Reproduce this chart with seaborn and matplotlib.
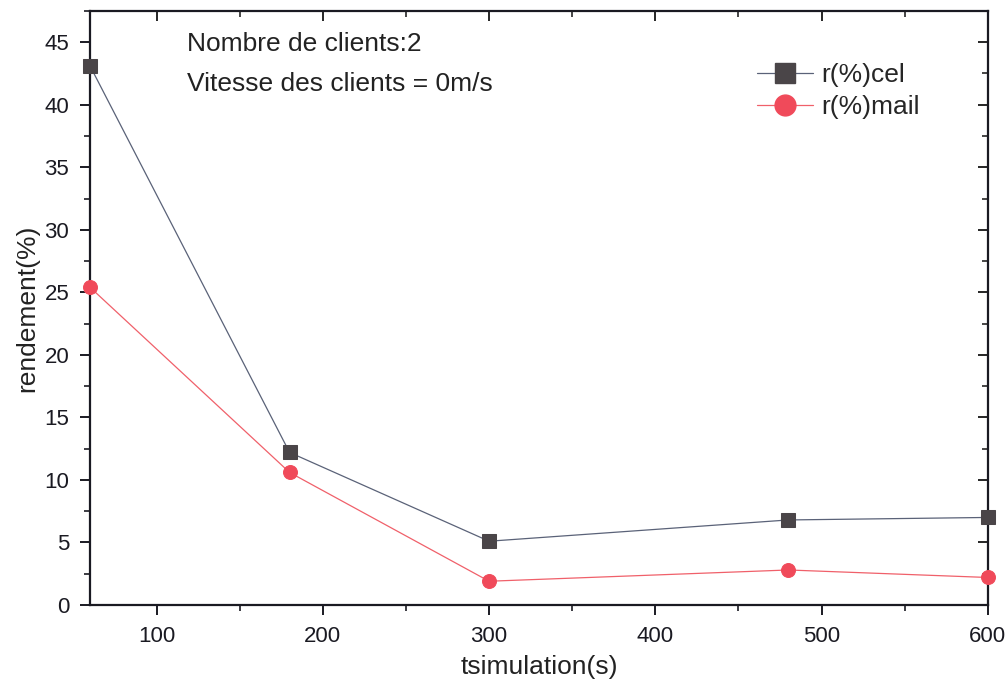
import numpy as np
import pandas as pd
import seaborn as sns
import matplotlib
matplotlib.use("Agg")
import matplotlib.pyplot as plt
from matplotlib.ticker import MultipleLocator
from matplotlib.lines import Line2D

# Simulation times (s)
tsimulation = [60, 180, 300, 480, 600]
# Yield (%) per series
r_cel = [43.1, 12.2, 5.1, 6.8, 7.0]
r_mail = [25.4, 10.6, 1.9, 2.8, 2.2]
series_names = ["r(%)cel", "r(%)mail"]

df = pd.DataFrame({
    "t": tsimulation * 2,
    "r": r_cel + r_mail,
    "serie": [series_names[0]] * len(tsimulation) + [series_names[1]] * len(tsimulation),
})

sns.set_style("ticks")
plt.rcParams["font.family"] = ["Liberation Sans", "DejaVu Sans"]

fig = plt.figure(figsize=(10.06, 6.81), dpi=100)
ax = fig.add_axes([0.0895, 0.1116, 0.8925, 0.8724])

line_cols = {"r(%)cel": "#5a6278", "r(%)mail": "#f0606a"}
face_cols = {"r(%)cel": "#4a4548", "r(%)mail": "#f04a5a"}
markers = {"r(%)cel": "s", "r(%)mail": "o"}

for name in series_names:
    sub = df[df["serie"] == name]
    sns.lineplot(data=sub, x="t", y="r", ax=ax, color=line_cols[name],
                 linewidth=0.9, marker=markers[name], markersize=10,
                 markerfacecolor=face_cols[name], markeredgecolor=face_cols[name],
                 clip_on=False, zorder=3, legend=False)

ax.set_xlim(60, 600)
ax.set_ylim(0, 47.5)
ax.xaxis.set_major_locator(MultipleLocator(100))
ax.xaxis.set_minor_locator(MultipleLocator(50))
ax.yaxis.set_major_locator(MultipleLocator(5))
ax.yaxis.set_minor_locator(MultipleLocator(2.5))

for s in ax.spines.values():
    s.set_linewidth(1.6)
    s.set_color("#1a1a22")

ax.tick_params(which="major", direction="out", length=7, width=1.4, labelsize=16,
               colors="#1a1a22", pad=8)
ax.tick_params(which="minor", direction="out", length=4, width=1.2, colors="#1a1a22")

# Mirror ticks on top and right, pointing inward
ax_top = ax.secondary_xaxis("top")
ax_top.xaxis.set_major_locator(MultipleLocator(100))
ax_top.xaxis.set_minor_locator(MultipleLocator(50))
ax_top.tick_params(which="major", direction="in", length=7, width=1.4, labeltop=False)
ax_top.tick_params(which="minor", direction="in", length=4, width=1.2)
ax_top.spines["top"].set_visible(False)
ax_right = ax.secondary_yaxis("right")
ax_right.yaxis.set_major_locator(MultipleLocator(5))
ax_right.yaxis.set_minor_locator(MultipleLocator(2.5))
ax_right.tick_params(which="major", direction="in", length=7, width=1.4, labelright=False)
ax_right.tick_params(which="minor", direction="in", length=4, width=1.2)
ax_right.spines["right"].set_visible(False)

ax.set_xlabel("tsimulation(s)", fontsize=19, color="#222222", labelpad=6)
ax.set_ylabel("rendement(%)", fontsize=19, color="#222222", labelpad=4)

ax.text(0.108, 0.944, "Nombre de clients:2", transform=ax.transAxes,
        fontsize=19, color="#222222", va="center")
ax.text(0.108, 0.877, "Vitesse des clients = 0m/s", transform=ax.transAxes,
        fontsize=19, color="#222222", va="center")

handles = [
    Line2D([], [], color=line_cols[n], linewidth=0.9, marker=markers[n],
           markersize=15, markerfacecolor=face_cols[n], markeredgecolor=face_cols[n])
    for n in series_names
]
ax.legend(handles, series_names, loc="upper right", bbox_to_anchor=(0.936, 0.93),
          frameon=False, fontsize=19, handlelength=2.15, handletextpad=0.3,
          labelspacing=0.3, borderaxespad=0)

fig.savefig("out.png", dpi=100)
